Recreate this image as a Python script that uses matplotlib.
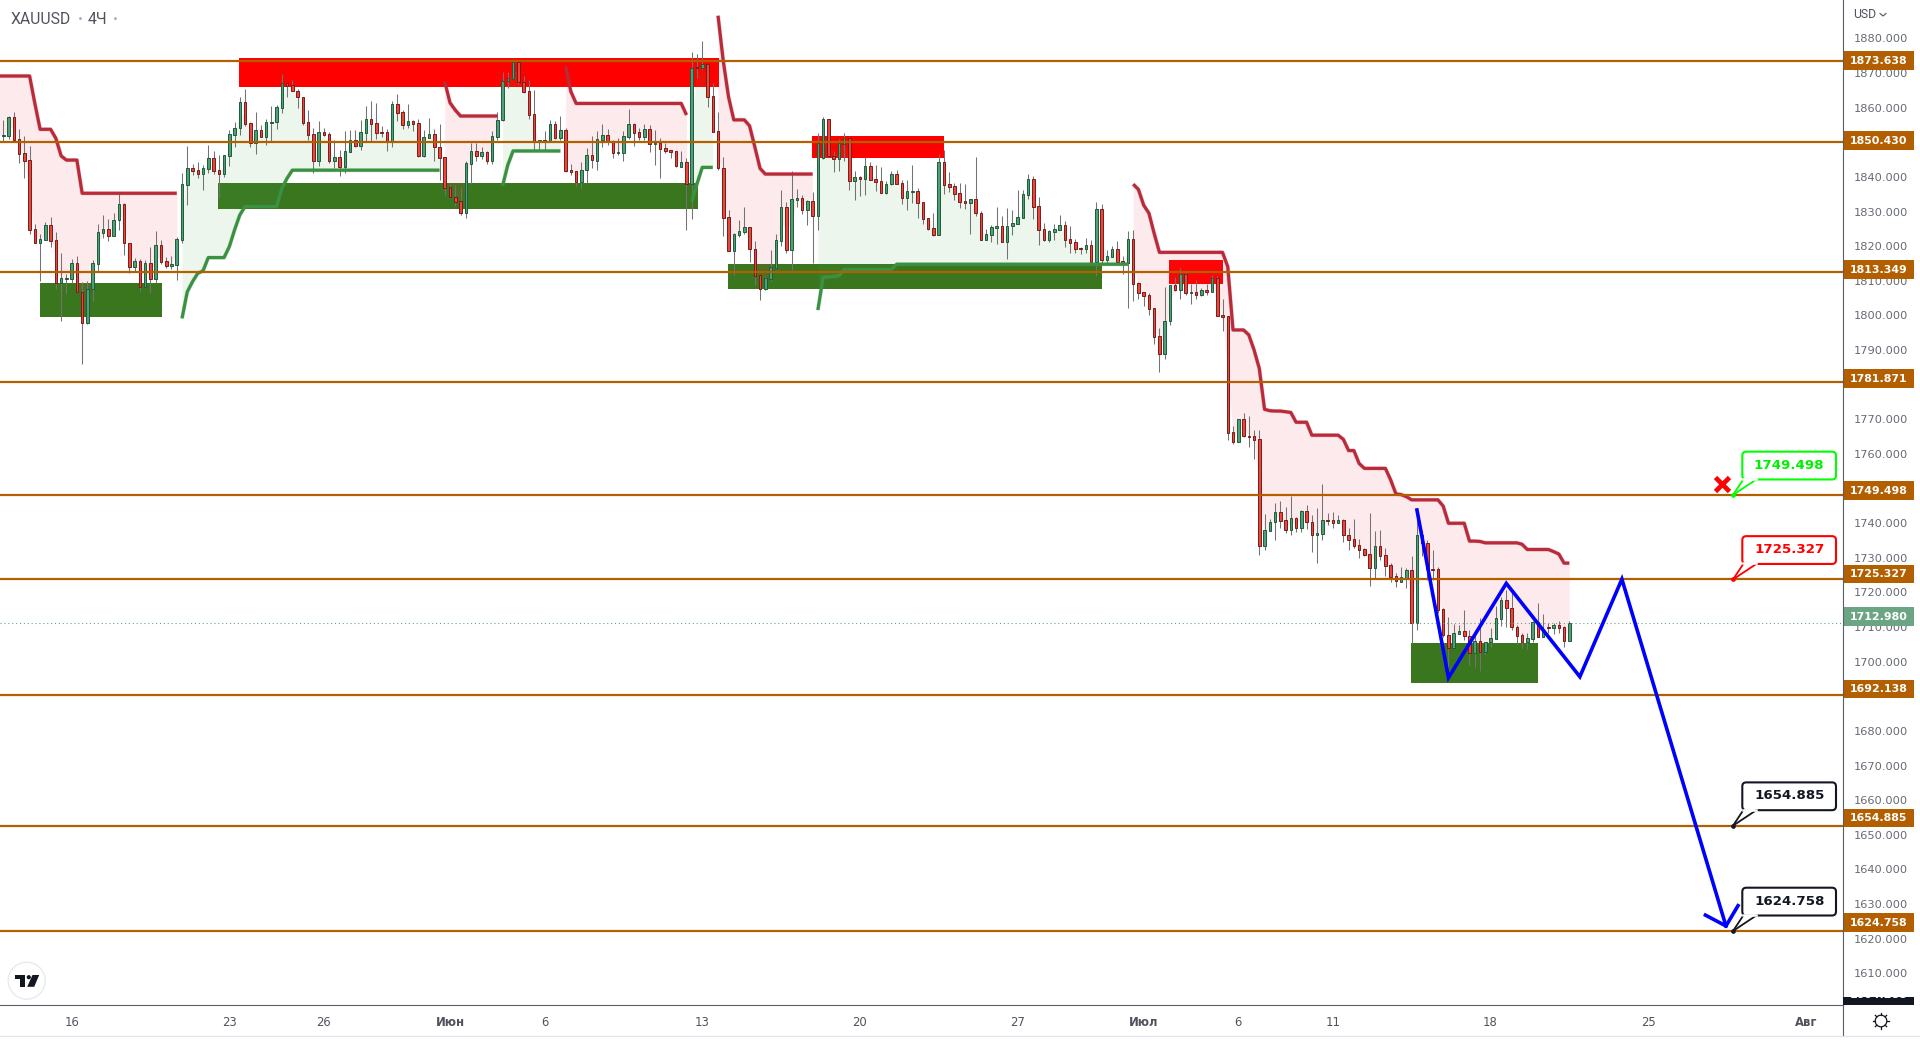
import numpy as np
import matplotlib
matplotlib.use("Agg")
import matplotlib.pyplot as plt
from matplotlib.patches import Rectangle, FancyBboxPatch, Circle, Polygon

# ---------- candles (4H bars, prices) ----------
opens = [1852.2,1852.2,1857.5,1851.2,1847.2,1845.2,1825.5,1821.7,1822.5,1826.6,
1822.3,1810.2,1811.4,1811.4,1815.8,1807.6,1798.8,1808.3,1815.7,1824.5,
1825.5,1823.7,1828.1,1832.6,1821.5,1814.8,1816.3,1809.1,1815.8,1811.4,
1820.9,1816.3,1815.1,1815.4,1822.5,1838.3,1842.9,1842.4,1841.4,1842.8,
1845.8,1842.4,1841.4,1846.6,1852.6,1854.4,1861.8,1855.8,1850.1,1853.8,
1852.0,1856.0,1856.1,1860.3,1867.3,1866.7,1865.2,1863.2,1856.1,1852.7,
1845.1,1853.2,1852.7,1845.1,1846.1,1843.4,1847.7,1851.0,1849.4,1853.1,
1857.0,1855.8,1853.2,1853.2,1850.6,1861.2,1859.0,1855.4,1856.4,1855.8,
1846.6,1851.7,1852.7,1849.0,1846.1,1837.5,1834.6,1833.5,1830.3,1844.3,
1847.8,1846.6,1847.5,1845.1,1852.0,1856.7,1867.8,1868.6,1873.3,1867.7,
1865.0,1858.4,1850.5,1851.0,1850.7,1855.5,1851.6,1853.8,1842.4,1842.1,
1839.1,1842.4,1846.7,1845.1,1851.1,1852.4,1850.8,1847.3,1847.4,1852.0,
1855.5,1853.2,1852.0,1854.1,1849.8,1850.3,1848.7,1848.1,1847.8,1843.4,
1844.7,1838.4,1871.8,1871.5,1872.7,1863.5,1853.5,1843.0,1828.9,1819.4,
1823.9,1824.8,1826.1,1820.0,1812.3,1808.5,1811.4,1814.5,1822.2,1831.8,
1819.7,1834.0,1834.4,1831.1,1833.5,1829.4,1846.0,1857.0,1846.6,1845.7,
1850.0,1851.5,1839.4,1840.4,1839.9,1843.5,1839.8,1839.2,1835.9,1838.4,
1841.2,1838.7,1834.5,1836.3,1836.4,1833.2,1828.6,1825.8,1824.0,1844.7,
1838.4,1837.8,1835.8,1833.5,1833.1,1834.1,1830.3,1822.5,1824.0,1826.0,
1826.3,1821.9,1826.3,1827.1,1828.8,1835.4,1839.8,1832.1,1825.5,1822.4,
1824.8,1825.4,1826.6,1822.6,1821.8,1820.1,1819.9,1820.9,1816.2,1831.2,
1816.8,1817.7,1819.8,1816.3,1815.9,1822.6,1810.0,1807.5,1806.6,1802.9,
1794.9,1789.9,1799.3,1809.5,1808.2,1812.6,1807.4,1807.7,1806.8,1808.0,
1807.7,1811.5,1801.0,1800.6,1767.4,1764.7,1771.1,1766.5,1766.3,1765.4,
1735.0,1739.3,1741.9,1744.5,1742.2,1739.6,1742.8,1740.1,1744.8,1741.9,
1737.9,1738.4,1742.2,1742.2,1741.5,1742.2,1738.0,1736.8,1735.1,1733.9,
1732.5,1728.7,1734.8,1732.2,1729.4,1726.2,1724.7,1725.7,1727.9,1712.8,
1737.9,1735.7,1728.4,1728.2,1716.8,1709.3,1705.8,1709.8,1710.5,1709.2,
1704.4,1707.6,1704.7,1707.3,1708.4,1714.1,1719.4,1717.3,1711.8,1709.3,
1707.5,1708.4,1713.2,1709.0,1711.7,1711.5,1712.2,1711.6,1707.8]

closes = [1852.4,1857.5,1851.0,1847.1,1845.1,1825.4,1821.7,1822.6,1826.6,1822.2,
1810.2,1811.5,1811.6,1815.8,1807.6,1798.8,1808.3,1815.8,1824.6,1825.5,
1823.7,1828.1,1832.6,1821.5,1814.8,1816.3,1809.1,1815.8,1811.4,1820.9,
1816.2,1815.1,1815.5,1822.6,1838.4,1842.9,1842.3,1841.4,1842.9,1845.8,
1842.3,1841.4,1846.7,1852.7,1854.4,1861.8,1855.7,1850.1,1853.8,1852.0,
1856.1,1856.2,1860.4,1867.3,1866.6,1865.2,1863.2,1856.0,1852.6,1845.1,
1853.2,1852.6,1845.1,1846.1,1843.4,1847.8,1851.0,1849.4,1853.2,1857.0,
1855.7,1853.1,1853.0,1850.7,1861.2,1858.9,1855.4,1856.4,1855.7,1846.6,
1851.8,1852.7,1848.9,1846.0,1837.4,1834.6,1833.4,1830.3,1844.4,1847.8,
1846.6,1847.5,1845.1,1852.1,1856.7,1867.8,1868.7,1873.3,1867.7,1864.9,
1858.3,1850.7,1851.0,1850.5,1855.5,1851.6,1853.8,1842.3,1842.0,1839.1,
1842.4,1846.7,1845.2,1851.2,1852.4,1850.8,1847.4,1847.5,1852.1,1855.5,
1853.1,1852.0,1854.1,1849.8,1850.3,1848.6,1848.0,1847.7,1843.5,1844.7,
1838.4,1871.7,1871.5,1872.7,1863.4,1853.4,1842.9,1828.8,1819.4,1824.2,
1824.9,1826.1,1820.0,1812.2,1808.5,1811.5,1814.6,1822.3,1831.8,1819.7,
1834.1,1834.4,1831.1,1833.5,1829.4,1850.1,1857.0,1846.6,1845.7,1850.1,
1851.5,1839.4,1840.4,1840.0,1843.5,1839.7,1839.1,1836.0,1838.4,1841.2,
1838.5,1834.5,1836.4,1836.5,1833.1,1828.5,1825.7,1824.0,1844.7,1838.3,
1837.7,1835.7,1833.4,1833.1,1834.1,1830.2,1822.5,1824.1,1826.1,1826.3,
1821.9,1826.3,1827.2,1828.9,1835.5,1839.8,1832.0,1825.4,1822.5,1824.9,
1825.5,1826.6,1822.5,1821.6,1819.9,1819.9,1820.9,1816.2,1831.2,1816.8,
1817.8,1819.8,1816.2,1815.9,1822.6,1809.9,1807.4,1806.5,1802.8,1794.8,
1789.9,1799.4,1809.5,1808.2,1812.6,1807.4,1807.7,1806.8,1808.0,1807.7,
1811.5,1800.8,1800.5,1767.3,1764.7,1771.1,1766.5,1766.2,1765.3,1735.0,
1739.4,1741.9,1744.5,1742.1,1739.6,1742.8,1740.1,1744.8,1741.9,1737.9,
1738.5,1742.2,1742.0,1741.5,1742.2,1737.9,1736.7,1735.0,1733.8,1732.3,
1728.7,1734.8,1732.1,1729.3,1726.1,1724.8,1725.9,1727.9,1712.8,1737.9,
1735.7,1728.3,1728.0,1716.6,1709.3,1705.8,1709.9,1710.5,1709.2,1704.4,
1707.6,1704.7,1707.3,1708.5,1714.2,1719.4,1717.2,1711.8,1709.2,1707.5,
1708.5,1713.2,1709.0,1710.4,1711.5,1712.2,1711.5,1707.8,1713.0]

highs = [1856.8,1857.9,1859.1,1854.2,1852.2,1849.3,1827.0,1824.2,1827.5,1829.0,
1824.7,1818.8,1812.7,1816.9,1817.9,1810.4,1810.7,1816.7,1827.0,1829.6,
1828.3,1830.3,1836.1,1832.9,1821.7,1817.2,1816.9,1816.7,1820.5,1825.0,
1822.3,1817.7,1817.9,1823.4,1841.7,1849.3,1844.2,1844.7,1843.9,1849.6,
1847.8,1846.7,1846.7,1853.9,1856.2,1863.2,1865.6,1856.3,1859.1,1855.2,
1857.0,1860.8,1861.1,1869.9,1867.4,1868.2,1865.5,1863.4,1859.6,1854.4,
1856.6,1854.6,1853.2,1851.0,1848.2,1853.6,1853.9,1853.9,1856.8,1860.8,
1862.2,1861.6,1855.0,1854.2,1862.2,1864.2,1859.6,1861.3,1856.7,1857.0,
1853.9,1857.2,1854.2,1855.6,1846.3,1838.2,1838.2,1837.2,1845.0,1850.3,
1850.3,1849.0,1847.8,1853.6,1859.1,1870.5,1870.5,1874.2,1873.3,1869.4,
1868.2,1865.3,1851.0,1853.6,1856.8,1856.6,1857.9,1854.4,1844.2,1842.2,
1844.7,1848.8,1852.2,1853.6,1855.6,1854.1,1851.0,1851.5,1853.6,1859.8,
1855.8,1854.4,1855.6,1855.3,1853.9,1851.5,1850.3,1848.2,1847.9,1847.9,
1845.8,1876.3,1875.5,1879.4,1872.7,1867.4,1859.1,1846.1,1831.0,1824.3,
1828.2,1831.9,1826.2,1822.2,1812.4,1812.0,1819.6,1824.1,1836.7,1833.4,
1842.2,1836.9,1835.3,1833.9,1836.1,1853.0,1857.5,1857.0,1847.9,1851.3,
1853.0,1851.8,1842.2,1840.6,1846.1,1844.8,1843.9,1843.4,1839.3,1842.2,
1842.5,1839.6,1839.6,1843.9,1837.2,1833.2,1828.8,1830.3,1847.0,1848.2,
1841.9,1838.6,1838.6,1838.4,1834.2,1846.1,1830.7,1825.6,1826.7,1831.9,
1829.3,1831.5,1831.0,1836.7,1836.7,1841.3,1840.7,1834.7,1827.3,1825.3,
1827.0,1829.6,1827.9,1826.4,1822.7,1820.5,1823.1,1822.4,1833.3,1832.7,
1819.6,1820.7,1822.1,1817.9,1825.0,1825.3,1810.3,1807.6,1807.2,1803.1,
1797.2,1809.0,1809.7,1811.8,1814.4,1813.4,1809.8,1811.0,1808.6,1809.8,
1812.3,1812.1,1805.6,1800.7,1769.2,1771.2,1772.9,1772.1,1768.1,1768.1,
1744.0,1742.5,1747.2,1747.8,1746.0,1749.2,1743.3,1745.2,1746.6,1743.9,
1745.8,1752.6,1744.2,1744.7,1743.8,1742.5,1740.0,1742.6,1736.8,1734.2,
1744.3,1739.2,1739.5,1734.2,1730.0,1727.1,1728.9,1728.5,1732.0,1743.8,
1739.5,1736.6,1733.8,1729.0,1717.3,1714.5,1712.7,1712.3,1716.6,1710.9,
1710.9,1714.3,1707.5,1711.3,1717.6,1720.4,1722.3,1721.4,1712.3,1709.9,
1709.9,1713.5,1718.5,1715.4,1712.8,1712.8,1713.3,1712.0,1713.3]

lows = [1850.6,1851.4,1850.6,1844.4,1840.3,1824.2,1821.7,1810.8,1822.4,1820.5,
1808.4,1799.4,1807.1,1810.2,1807.5,1787.0,1798.5,1805.1,1813.7,1823.1,
1822.2,1823.6,1825.3,1818.1,1813.1,1813.7,1807.8,1809.1,1807.4,1810.0,
1815.6,1814.5,1814.1,1811.0,1821.7,1832.5,1841.0,1840.3,1836.7,1841.5,
1841.3,1834.4,1840.4,1843.7,1848.9,1852.5,1855.1,1848.9,1847.1,1851.8,
1849.7,1850.8,1854.2,1858.9,1863.2,1865.1,1860.1,1855.3,1851.0,1841.7,
1843.6,1852.3,1844.6,1843.1,1840.8,1841.7,1847.7,1849.1,1848.2,1850.6,
1850.8,1851.4,1852.0,1848.0,1849.0,1856.6,1854.3,1854.6,1853.6,1846.3,
1846.3,1851.7,1844.9,1839.6,1835.3,1834.5,1832.2,1829.7,1828.8,1838.4,
1845.0,1845.5,1844.2,1844.3,1851.1,1856.5,1865.8,1868.4,1867.1,1864.6,
1857.0,1848.2,1847.9,1848.2,1850.7,1851.2,1851.0,1841.9,1840.9,1838.0,
1837.4,1838.7,1843.1,1842.5,1849.0,1849.5,1846.0,1846.8,1844.9,1851.2,
1849.3,1851.0,1851.0,1847.7,1843.9,1840.3,1847.4,1846.0,1843.4,1843.4,
1825.3,1828.5,1868.8,1871.4,1860.6,1853.4,1842.6,1823.6,1819.3,1812.4,
1823.4,1824.2,1816.2,1809.6,1805.3,1808.0,1810.8,1814.2,1820.8,1818.8,
1813.9,1832.0,1829.9,1826.7,1815.9,1825.3,1845.7,1846.3,1842.0,1842.3,
1844.9,1836.7,1833.9,1835.0,1835.3,1839.6,1836.5,1835.8,1835.6,1838.2,
1838.4,1832.7,1831.0,1833.1,1828.8,1827.0,1825.3,1823.6,1823.8,1835.6,
1836.3,1833.9,1831.5,1831.3,1824.1,1829.3,1822.4,1822.4,1821.9,1821.3,
1821.9,1817.0,1823.8,1827.1,1828.8,1834.2,1828.4,1821.0,1822.2,1821.9,
1822.4,1825.3,1820.4,1818.7,1818.7,1818.4,1818.7,1815.9,1812.1,1815.5,
1815.9,1817.5,1815.8,1812.7,1803.1,1805.0,1805.6,1803.6,1801.0,1792.7,
1784.7,1788.4,1798.1,1807.9,1805.6,1806.7,1804.1,1805.6,1806.5,1806.7,
1807.5,1800.8,1796.4,1765.2,1764.1,1764.7,1766.2,1763.2,1759.8,1732.3,
1733.8,1739.2,1736.6,1740.0,1738.7,1738.0,1738.9,1739.0,1739.8,1733.2,
1730.1,1736.6,1740.9,1740.0,1741.4,1736.1,1733.8,1734.4,1731.5,1731.9,
1723.5,1725.7,1730.9,1726.3,1724.7,1723.1,1724.5,1722.8,1707.0,1710.9,
1732.1,1725.2,1725.2,1715.6,1708.9,1699.9,1705.6,1709.7,1708.0,1700.8,
1700.2,1699.2,1703.7,1706.1,1708.4,1712.0,1711.8,1710.9,1707.0,1705.5,
1705.5,1707.5,1708.8,1708.8,1709.9,1709.7,1709.9,1706.1,1707.8]

# ---------- supertrend segments: first bar, then one value per bar ----------
st_r1 = [1869.35]*7 + [1861.5] + [1854.1]*3 + [1851.5, 1846.5] + [1845.3]*3 + [1835.8]*19
st_g1 = [1800.0,1807.6,1810.5,1812.9,1813.6] + [1817.4]*4 + [1820.5,1825.3,1829.6] + [1832.0]*7 + [1837.2,1840.1] + [1842.4]*29
st_r2 = [1867.7,1861.7,1859.6] + [1857.9]*8
st_g2 = [1837.9,1843.9] + [1847.9]*10
st_r3 = [1872.2,1864.9] + [1861.5]*21 + [1858.2]
st_g3 = [1833.4,1838.5] + [1843.2]*3
st_r4 = [1886.6,1873.6,1863.4] + [1856.8]*3 + [1855.1,1849.1,1842.9] + [1841.3]*10
st_g4 = [1802.4,1811.7,1811.9,1812.0,1812.2] + [1814.0]*10 + [1815.5]*45
st_r5 = ([1838.4,1836.9,1832.4,1830.1,1824.3] + [1818.9]*13 + [1814.8] + [1796.7]*3 +
         [1795.3,1791.0,1785.7,1774.0,1773.6,1773.5,1773.5,1773.3,1773.1] + [1770.3]*3 +
         [1766.6]*6 + [1765.4,1762.2,1762.2,1758.5] + [1757.1]*5 +
         [1753.8,1749.8,1749.6,1749.0] + [1748.1]*6 + [1746.3] + [1741.4]*4 +
         [1736.3,1736.3,1736.2] + [1735.8]*7 + [1735.4] + [1733.9]*5 +
         [1733.3,1732.6,1730.0,1730.0])
red_segments = [(-1, st_r1), (84, st_r2), (107, st_r3), (136, st_r4), (215, st_r5)]
green_segments = [(34, st_g1), (95, st_g2), (131, st_g3), (155, st_g4)]

# ---------- zones: first bar, last bar, top price, bottom price ----------
red_zones = [(44.85,136.2,1874.5,1866.2),(153.8,179.0,1852.2,1845.9),(221.8,232.1,1816.7,1809.85)]
green_zones = [(7.0,30.2,1810.1,1800.5),(40.85,132.2,1838.7,1831.3),(137.9,209.1,1815.6,1808.4),(267.9,292.0,1707.1,1695.7)]

# ---------- levels and forecast path ----------
levels = [1873.638,1850.430,1813.349,1781.871,1749.498,1725.327,1692.138,1654.885,1624.758]
level_labels = ["1873.638","1850.430","1813.349","1781.871","1749.498","1725.327","1692.138","1654.885","1624.758"]
last_price = 1712.980
path_bars = [269,275,286,300,308,327.8]
path_prices = [1745.2,1697.2,1724.2,1697.5,1725.4,1626.2]
head_bars = [323.9,327.8,330.1]
head_prices = [1629.3,1626.2,1632.0]

y_ticks = [1880,1870,1860,1840,1830,1820,1810,1800,1790,1770,1760,1740,1730,1720,1710,1700,1680,1670,1660,1650,1640,1630,1620,1610]
x_ticks = [13,43,61,85,103,133,163,193,217,235,253,283,313,343]
x_labels = ["16","23","26","Июн","6","13","20","27","Июл","6","11","18","25","Авг"]
callouts = [(1749.498,"1749.498","#00ff00"),(1725.327,"1725.327","#ff0000"),
            (1654.885,"1654.885","#131722"),(1624.758,"1624.758","#131722")]

W, H = 1920, 1046
PANE_R, PANE_B = 1842.5, 1005
LEVEL_C = "#b35f00"
GRAY = "#5a5d68"

fig = plt.figure(figsize=(W/100, H/100), dpi=100, facecolor="white")
ax = fig.add_axes([0, (H-PANE_B)/H, PANE_R/W, PANE_B/H], zorder=1)
ax.set_xlim(-0.634, 349.98)
ax.set_ylim(1603.59, 1891.09)
ax.set_yticks([])
for s in ax.spines.values():
    s.set_visible(False)
ax.set_xticks(x_ticks)
ax.set_xticklabels(x_labels, fontsize=8.4, color="#50535e", family="DejaVu Sans")
ax.tick_params(axis="x", length=0, pad=8)
for t, l in zip(ax.get_xticklabels(), x_labels):
    if not l.isdigit():
        t.set_fontweight("bold")

o, h, l, c = map(np.array, (opens, highs, lows, closes))
x = np.arange(len(o))
mid = (o + c) / 2

for x0, x1, top, bot in red_zones:
    ax.add_patch(Rectangle((x0, bot), x1-x0, top-bot, fc="#ff0000", ec="none", zorder=1))
for x0, x1, top, bot in green_zones:
    ax.add_patch(Rectangle((x0, bot), x1-x0, top-bot, fc="#3a761e", ec="none", zorder=1))

def seg(ax, start, vals, color, fillc, alpha):
    xs = np.arange(start, start+len(vals))
    vals = np.array(vals)
    ms = mid[np.clip(xs, 0, len(mid)-1)]
    ax.fill_between(xs, vals, ms, color=fillc, alpha=alpha, lw=0, zorder=2)
    ax.plot(xs, vals, color=color, lw=3.0, alpha=0.22, zorder=3.9, solid_capstyle="butt", solid_joinstyle="round")
    ax.plot(xs, vals, color=color, lw=2.3, zorder=4, solid_capstyle="butt", solid_joinstyle="round")

for st, v in red_segments:
    seg(ax, st, v, "#b92b3a", "#f23645", 0.10)
for st, v in green_segments:
    seg(ax, st, v, "#3a9142", "#4caf50", 0.10)

ax.vlines(x, l, h, color="#737373", lw=0.75, zorder=3)
up = c >= o
ax.bar(x[up], np.maximum(c[up]-o[up], 0.1), bottom=o[up], width=0.48, fc="#4f9f78", ec="#1d5c3b", lw=0.7, zorder=3.2)
ax.bar(x[~up], np.maximum(o[~up]-c[~up], 0.1), bottom=c[~up], width=0.48, fc="#e9473a", ec="#7a1b1b", lw=0.7, zorder=3.2)

ax.hlines(levels, -1, 351, color=LEVEL_C, lw=1.6, zorder=5)
ax.axhline(last_price, color="#6ca584", lw=0.8, ls=(0, (1, 2.5)), zorder=4)
ax.plot(path_bars, path_prices, color="#0000ff", lw=2.6, zorder=6, solid_joinstyle="miter")
ax.plot(head_bars, head_prices, color="#0000ff", lw=2.6, zorder=6, solid_joinstyle="miter")
ax.plot([327], [1752.55], marker="x", ms=10, mew=3.4, color="#ff0000", zorder=7)

# price scale: its labels follow their own slightly different scale
ax_r = fig.add_axes([1843/W, (H-PANE_B)/H, 10.7/W, PANE_B/H], zorder=2)
ax_r.patch.set_alpha(0)
ax_r.set_xlim(0, 10.7)
ax_r.set_ylim(1600.87, 1891.09)
ax_r.set_xticks([])
for s in ax_r.spines.values():
    s.set_visible(False)
ax_r.yaxis.tick_right()
ax_r.set_yticks(y_ticks)
ax_r.set_yticklabels([f"{v:.3f}" for v in y_ticks], fontsize=8.2, color="#666a73", family="DejaVu Sans")
ax_r.tick_params(axis="y", length=0, pad=0)

def price_box(price, text, fc, tc="white"):
    hh = 9.4 / 3.463
    ax_r.add_patch(Rectangle((0, price-hh), 71, 2*hh, fc=fc, ec="none", zorder=5, clip_on=False))
    ax_r.text(35.5, price-0.1, text, color=tc, fontsize=7.9, fontweight="bold", ha="center", va="center",
              zorder=6, clip_on=False, family="DejaVu Sans")

for lv, lab in zip(levels, level_labels):
    price_box(lv, lab, LEVEL_C)
price_box(last_price, "1712.980", "#6ca584")

# overlay for chart furniture, in pixels
ov = fig.add_axes([0, 0, 1, 1], zorder=3)
ov.patch.set_alpha(0)
ov.set_xlim(0, W)
ov.set_ylim(H, 0)
ov.axis("off")

dark = Rectangle((1843, 997), 71, 8, fc="#131722", ec="none", zorder=5)
ov.add_patch(dark)
tx = ov.text(1878.5, 995, "1604.288", color="white", fontsize=7.9, fontweight="bold", ha="center", va="center", zorder=6)
tx.set_clip_path(dark)

ov.plot([PANE_R, PANE_R], [0, 1036], color=GRAY, lw=0.8)
ov.plot([0, PANE_R], [1005, 1005], color=GRAY, lw=0.8)
ov.plot([0, W], [1036, 1036], color="#e0e3eb", lw=0.9)

# title
ov.text(11, 19.5, "XAUUSD", family="Roboto", fontsize=11.3, color="#50535e", va="center", ha="left")
ov.text(80, 19.5, "·", family="Roboto", fontsize=12, color="#a3a6af", va="center", ha="center", fontweight="bold")
ov.text(88, 19.5, "4Ч", family="Roboto", fontsize=11.3, color="#50535e", va="center", ha="left")
ov.text(115, 19.5, "·", family="Roboto", fontsize=12, color="#a3a6af", va="center", ha="center", fontweight="bold")

# currency
ov.text(1853.5, 15, "USD", family="Roboto", fontsize=8.8, color="#50535e", va="center", ha="left")
ov.plot([1880, 1883, 1886], [13.5, 16, 13.5], color="#50535e", lw=0.8)

# callouts
def callout(price, text, col):
    yd = ax.transData.transform((0, price))[1]
    y = H - yd
    xd = 1733.0
    bx0, bx1, by0, by1 = 1742.3, 1836.0, y-43.3, y-15.5
    ov.add_patch(FancyBboxPatch((bx0+3, by0+3), bx1-bx0-6, by1-by0-6, boxstyle="round,pad=3,rounding_size=4",
                                fc="white", ec=col, lw=1.5, zorder=7))
    ov.add_patch(Polygon([(xd, y), (bx0+2, by1-1), (bx0+14, by1-1)], closed=True, fc="white", ec="none", zorder=8))
    ov.plot([xd, bx0+1], [y, by1], color=col, lw=1.3, zorder=8)
    ov.plot([xd, bx0+14], [y, by1], color=col, lw=1.3, zorder=8)
    ov.plot([bx0+1, bx0+14], [by1-0.5, by1-0.5], color="white", lw=1.8, zorder=8)
    ov.plot([xd], [y], marker="o", ms=3.4, color=col, mew=0, zorder=9)
    ov.text((bx0+bx1)/2, (by0+by1)/2-0.5, text, color=col if col != "#00ff00" else "#00f000", fontsize=9.6,
            fontweight="bold", ha="center", va="center", zorder=10, family="DejaVu Sans")

for price, text, col in callouts:
    callout(price, text, col)

# logo
ov.add_patch(Circle((26.7, 980.7), 18.5, fc="white", ec="#e9eaee", lw=1, zorder=5))
ov.add_patch(Polygon([(15, 975), (25.3, 975), (25.3, 986.8), (20, 986.8), (20, 979.2), (15, 979.2)], fc="#131722", ec="none", zorder=6))
ov.add_patch(Circle((28.8, 977.2), 2.1, fc="#131722", ec="none", zorder=6))
ov.add_patch(Polygon([(32.5, 975), (39.2, 975), (34.2, 986.8), (27.2, 986.8)], fc="#131722", ec="none", zorder=6))

# settings gear
gx, gy = 1881, 1021
ov.add_patch(Circle((gx, gy), 5.8, fc="white", ec="#131722", lw=0.9, zorder=5))
for a in np.arange(0, 2*np.pi, np.pi/4):
    ov.plot([gx+5.8*np.cos(a), gx+8*np.cos(a)], [gy+5.8*np.sin(a), gy+8*np.sin(a)], color="#131722", lw=0.9, zorder=5)

fig.savefig("out.png", dpi=100, facecolor="white")
